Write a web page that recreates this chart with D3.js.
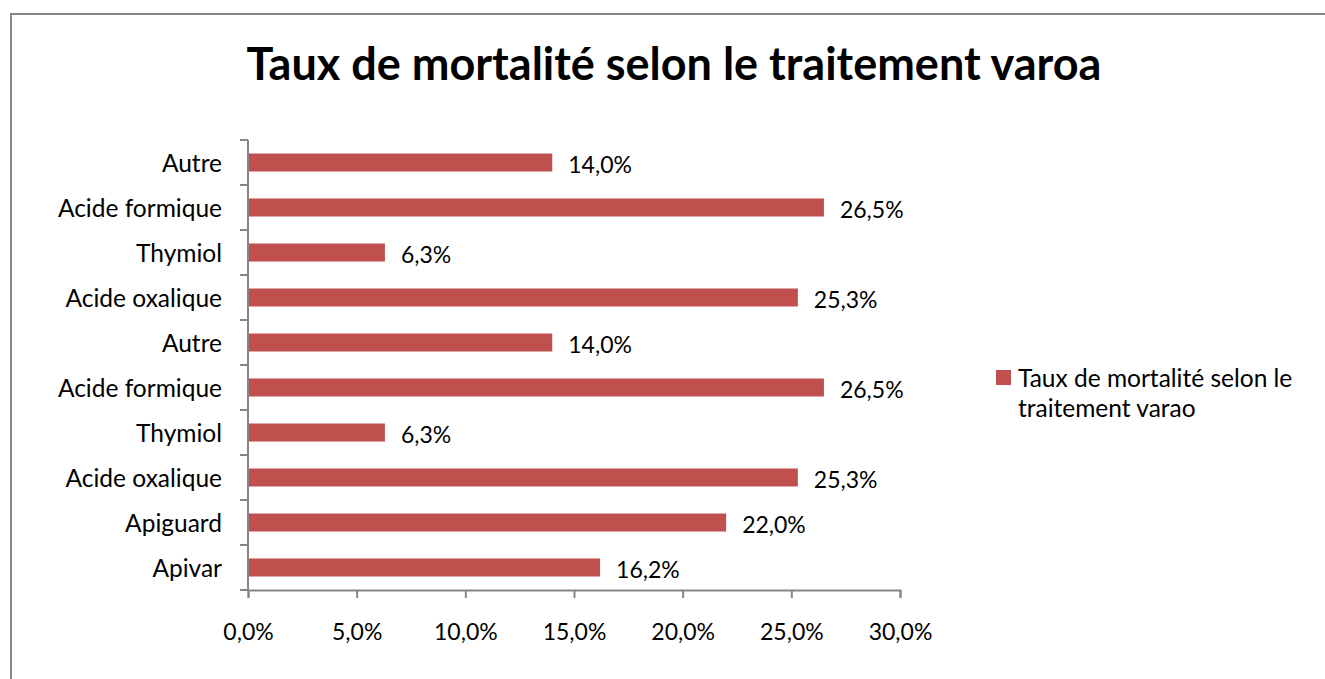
<!DOCTYPE html>
<html>
<head>
<meta charset="utf-8">
<script src="https://cdn.jsdelivr.net/npm/d3@7"></script>
<style>
  body { margin: 0; background: #fff; }
  svg { display: block; font-family: Lato, "Open Sans", sans-serif; }
</style>
</head>
<body>
<svg width="1325" height="679"></svg>
<script>
// top to bottom, as in the chart
var categories = ["Autre", "Acide formique", "Thymiol", "Acide oxalique", "Autre",
                  "Acide formique", "Thymiol", "Acide oxalique", "Apiguard", "Apivar"];
var values = [0.140, 0.265, 0.063, 0.253, 0.140, 0.265, 0.063, 0.253, 0.220, 0.162];
var xTicks = [0, 0.05, 0.10, 0.15, 0.20, 0.25, 0.30];
var titleText = "Taux de mortalité selon le traitement varoa";
var legendLines = ["Taux de mortalité selon le", "traitement varao"];

var BAR = "#C0504D", AXIS = "#868686";
var plot = { left: 248, right: 900, top: 140, bottom: 590 };

var svg = d3.select("svg");

// outer frame (runs off the right and bottom edges)
svg.append("rect")
  .attr("x", 11).attr("y", 14).attr("width", 1400).attr("height", 700)
  .attr("fill", "#fff").attr("stroke", "#878787").attr("stroke-width", 2);

svg.append("text")
  .attr("x", 674).attr("y", 80)
  .attr("text-anchor", "middle")
  .attr("font-weight", "bold").attr("font-size", 45)
  .text(titleText);

var x = d3.scaleLinear().domain([0, 0.30]).range([plot.left, plot.right]);
var y = d3.scaleBand().domain(d3.range(categories.length))
  .range([plot.top, plot.bottom]).paddingInner(0.6).paddingOuter(0.3);

var fmt = function(v){ return d3.format(".1%")(v).replace(".", ","); };

// bars
svg.selectAll(".bar").data(values).enter().append("rect")
  .attr("class", "bar")
  .attr("x", x(0)).attr("y", function(d, i){ return y(i); })
  .attr("width", function(d){ return x(d) - x(0); })
  .attr("height", y.bandwidth())
  .attr("fill", BAR);

// value labels
svg.selectAll(".val").data(values).enter().append("text")
  .attr("class", "val")
  .attr("x", function(d){ return x(d) + 16; })
  .attr("y", function(d, i){ return y(i) + y.bandwidth() / 2; })
  .attr("dy", "0.45em")
  .attr("font-size", 23).attr("fill", "#000")
  .text(fmt);

// y axis with ticks between categories
var step = (plot.bottom - plot.top) / categories.length;
var yAxis = svg.append("g");
yAxis.append("line")
  .attr("x1", plot.left).attr("x2", plot.left)
  .attr("y1", plot.top).attr("y2", plot.bottom)
  .attr("stroke", AXIS).attr("stroke-width", 2);
yAxis.selectAll(".yt").data(d3.range(categories.length + 1)).enter().append("line")
  .attr("x1", plot.left - 8).attr("x2", plot.left)
  .attr("y1", function(i){ return plot.top + i * step; })
  .attr("y2", function(i){ return plot.top + i * step; })
  .attr("stroke", AXIS).attr("stroke-width", 2);
yAxis.selectAll(".yl").data(categories).enter().append("text")
  .attr("x", plot.left - 26)
  .attr("y", function(d, i){ return y(i) + y.bandwidth() / 2; })
  .attr("dy", "0.38em")
  .attr("text-anchor", "end").attr("font-size", 24.5)
  .text(function(d){ return d; });

// x axis
var xAxis = svg.append("g").attr("transform", "translate(0," + plot.bottom + ")")
  .call(d3.axisBottom(x).tickValues(xTicks).tickSize(8).tickPadding(0).tickFormat(fmt));
xAxis.select(".domain").attr("stroke", AXIS).attr("stroke-width", 2);
xAxis.selectAll(".tick line").attr("stroke", AXIS).attr("stroke-width", 2);
xAxis.selectAll(".tick text").attr("font-size", 23).attr("font-family", "Lato, sans-serif")
  .attr("fill", "#000").attr("y", 50).attr("dy", 0);

// legend
var leg = svg.append("g").attr("transform", "translate(996,370)");
leg.append("rect").attr("width", 15).attr("height", 15).attr("fill", BAR);
leg.selectAll("text").data(legendLines).enter().append("text")
  .attr("x", 22).attr("y", function(d, i){ return 17 + i * 30; })
  .attr("font-size", 24.5)
  .text(function(d){ return d; });
</script>
</body>
</html>
